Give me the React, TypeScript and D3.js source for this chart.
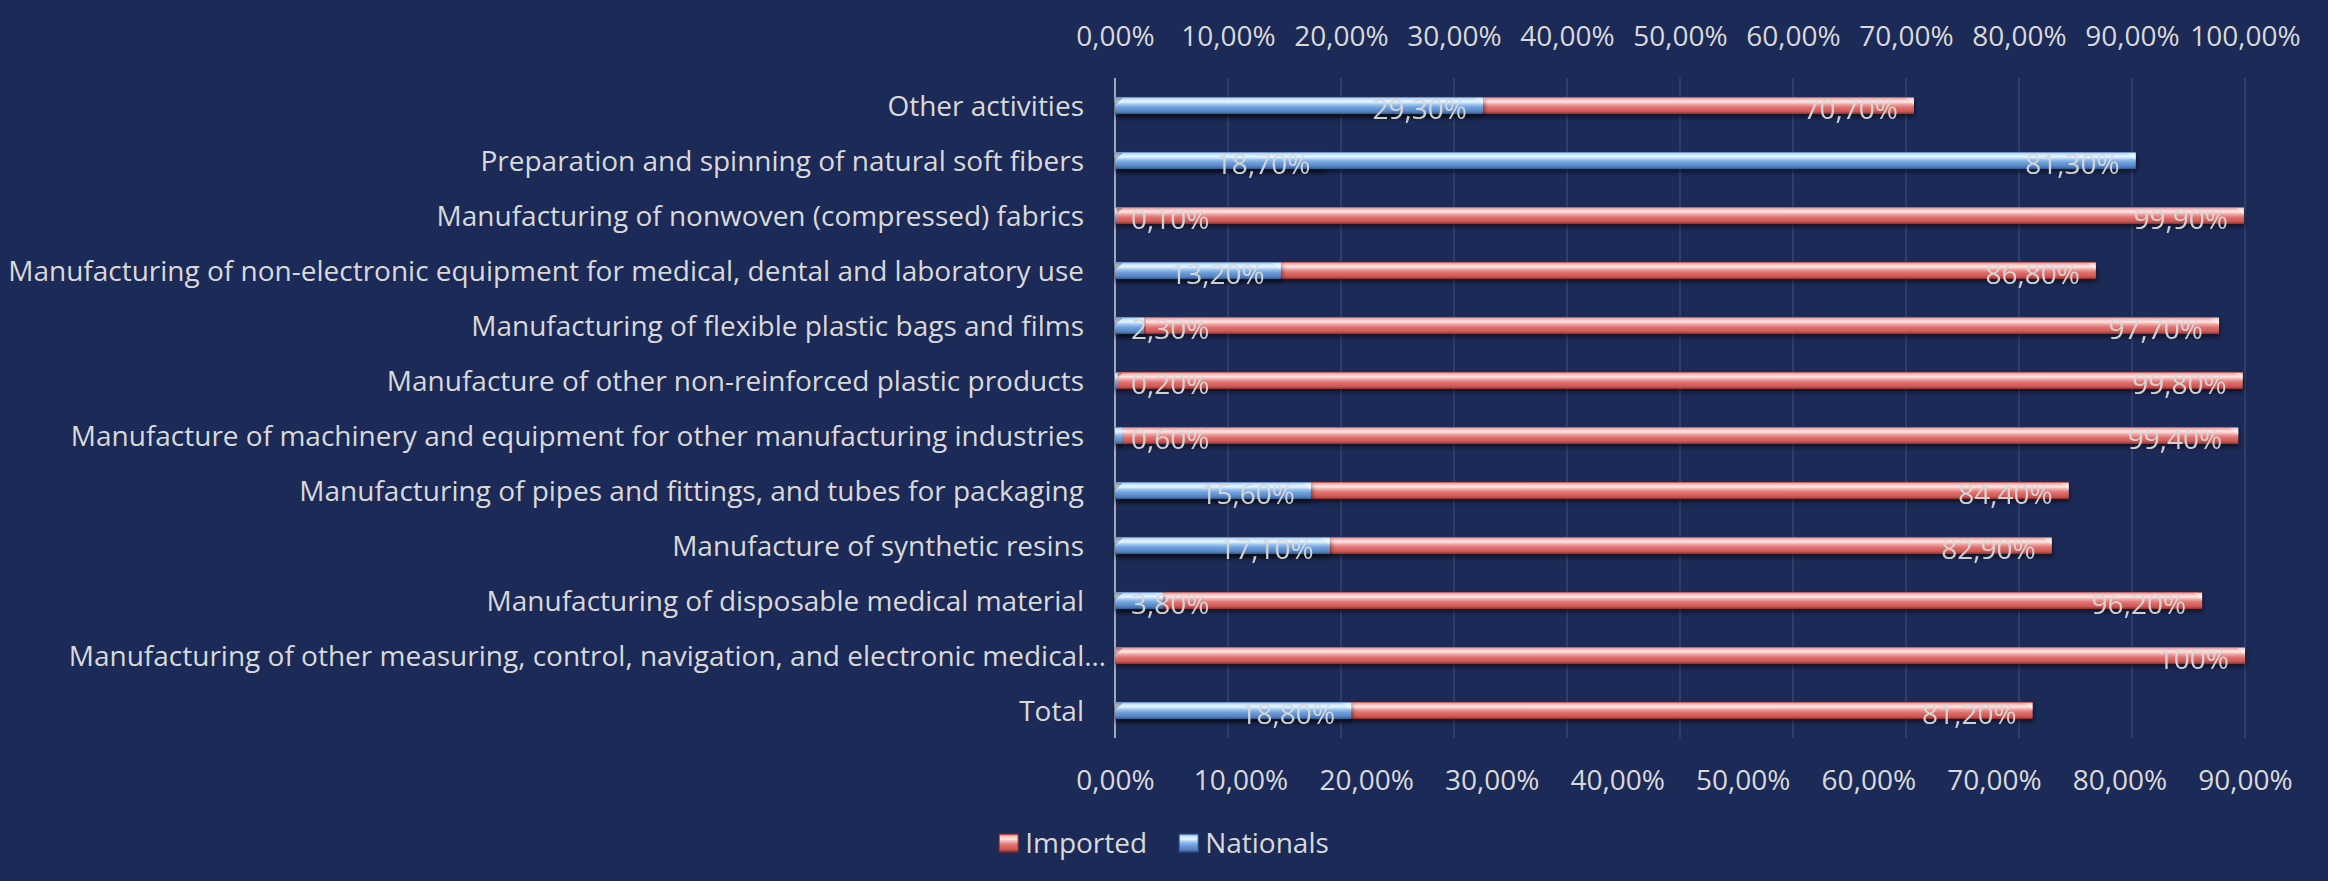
import * as d3 from "d3";
import { useEffect, useRef } from "react";

const categories = [
  "Other activities",
  "Preparation and spinning of natural soft fibers",
  "Manufacturing of nonwoven (compressed) fabrics",
  "Manufacturing of non-electronic equipment for medical, dental and laboratory use",
  "Manufacturing of flexible plastic bags and films",
  "Manufacture of other non-reinforced plastic products",
  "Manufacture of machinery and equipment for other manufacturing industries",
  "Manufacturing of pipes and fittings, and tubes for packaging",
  "Manufacture of synthetic resins",
  "Manufacturing of disposable medical material",
  "Manufacturing of other measuring, control, navigation, and electronic medical…",
  "Total",
];

// Imported is plotted on the top axis (0-100%), Nationals on the bottom axis (0-90%)
const imported = [0.707, 0.187, 0.999, 0.868, 0.977, 0.998, 0.994, 0.844, 0.829, 0.962, 1.0, 0.812];
const nationals: (number | null)[] = [0.293, 0.813, 0.001, 0.132, 0.023, 0.002, 0.006, 0.156, 0.171, 0.038, null, 0.188];

const importedTicks = [0, 0.1, 0.2, 0.3, 0.4, 0.5, 0.6, 0.7, 0.8, 0.9, 1.0];
const nationalsTicks = [0, 0.1, 0.2, 0.3, 0.4, 0.5, 0.6, 0.7, 0.8, 0.9];

const seriesNames = ["Imported", "Nationals"];

const W = 2328;
const H = 881;
const BG = "#1c2a57";
const TEXT = "#d9d9d9";
const FONT = "'Open Sans', sans-serif";

const locale = d3.formatLocale({ decimal: ",", thousands: ".", grouping: [3], currency: ["", ""] });
const pct2 = locale.format(".2%");
const labelFmt = (v: number) => (v === 1 ? "100%" : pct2(v));

export default function App() {
  const ref = useRef<SVGSVGElement | null>(null);

  useEffect(() => {
    if (!ref.current) return;
    const svg = d3.select(ref.current);
    svg.selectAll("*").remove();

    const margin = { top: 78, right: 83, bottom: 143, left: 1115 };
    const innerW = W - margin.left - margin.right;
    const innerH = H - margin.top - margin.bottom;

    const xTop = d3.scaleLinear().domain([0, 1]).range([0, innerW]);
    const xBot = d3.scaleLinear().domain([0, 0.9]).range([0, innerW]);
    const y = d3.scaleBand<string>().domain(categories).range([0, innerH]).paddingInner(0.69).paddingOuter(0.345);

    const defs = svg.append("defs");
    const grad = (id: string, stops: [number, string][]) => {
      const g = defs.append("linearGradient").attr("id", id).attr("x1", 0).attr("x2", 0).attr("y1", 0).attr("y2", 1);
      stops.forEach(([o, c]) => g.append("stop").attr("offset", o).attr("stop-color", c));
    };
    grad("gRed", [
      [0, "#b04744"],
      [0.1, "#f3b3b1"],
      [0.28, "#fee9e8"],
      [0.42, "#f1a9a7"],
      [0.6, "#e07370"],
      [0.85, "#cd5753"],
      [1, "#8a302d"],
    ]);
    grad("gBlue", [
      [0, "#4f78b0"],
      [0.1, "#bfe0ff"],
      [0.28, "#e8f7ff"],
      [0.45, "#97c2f0"],
      [0.62, "#6f9fdc"],
      [0.86, "#5482c0"],
      [1, "#34578a"],
    ]);
    const shadow = defs.append("filter").attr("id", "shadow").attr("x", "-5%").attr("y", "-50%").attr("width", "110%").attr("height", "250%");
    shadow.append("feDropShadow").attr("dx", 1).attr("dy", 3).attr("stdDeviation", 2.5).attr("flood-color", "#000").attr("flood-opacity", 0.55);

    svg.append("rect").attr("width", W).attr("height", H).attr("fill", BG);

    const g = svg.append("g").attr("transform", `translate(${margin.left},${margin.top})`);

    // vertical gridlines from the primary (top) axis
    g.append("g")
      .selectAll("line")
      .data(importedTicks.slice(1))
      .join("line")
      .attr("x1", (d) => xTop(d))
      .attr("x2", (d) => xTop(d))
      .attr("y1", 0)
      .attr("y2", innerH)
      .attr("stroke", "#36446e")
      .attr("stroke-width", 1.5);

    // category axis line
    g.append("line").attr("x1", 0).attr("x2", 0).attr("y1", 0).attr("y2", innerH).attr("stroke", "#a3a9bb").attr("stroke-width", 2);

    // top axis
    const topAxis = svg
      .append("g")
      .attr("transform", `translate(${margin.left},36)`)
      .call(d3.axisTop(xTop).tickValues(importedTicks).tickSize(0).tickFormat((v) => pct2(v as number)));
    // bottom axis
    const botAxis = svg
      .append("g")
      .attr("transform", `translate(${margin.left},780)`)
      .call(d3.axisBottom(xBot).tickValues(nationalsTicks).tickSize(0).tickFormat((v) => pct2(v as number)));
    [topAxis, botAxis].forEach((a) => {
      a.select(".domain").remove();
      a.selectAll("text")
        .attr("y", 0)
        .attr("dy", "0.36em")
        .style("fill", TEXT)
        .style("font-family", FONT)
        .style("font-size", "28px");
    });

    // category labels (Excel lets the truncated one run a little past the others)
    g.append("g")
      .selectAll("text")
      .data(categories)
      .join("text")
      .attr("x", (d) => (d.endsWith("…") ? -9 : -31))
      .attr("y", (d) => (y(d) ?? 0) + y.bandwidth() / 2)
      .attr("dy", "0.36em")
      .attr("text-anchor", "end")
      .style("fill", TEXT)
      .style("font-family", FONT)
      .style("font-size", "28px")
      .text((d) => d);

    const bh = y.bandwidth();

    const drawBars = (vals: (number | null)[], x: d3.ScaleLinear<number, number>, fill: string) => {
      const rows = vals.map((v, i) => ({ v, c: categories[i] })).filter((d) => d.v != null && (d.v as number) > 0);
      const bg = g.append("g");
      rows.forEach((d) => {
        const y0 = y(d.c) ?? 0;
        const w = Math.max(x(d.v as number), 1.5);
        const row = bg.append("g");
        row.append("rect").attr("x", 0).attr("y", y0).attr("width", w).attr("height", bh).attr("fill", `url(#${fill})`).attr("filter", "url(#shadow)");
        if (w > 12) {
          // bevelled ends
          row.append("path")
            .attr("d", `M${w - 8},${y0 + 1}L${w},${y0 + 1}L${w},${y0 + 8}Z`)
            .attr("fill", "#ffffff")
            .attr("opacity", 0.45);
          row.append("path")
            .attr("d", `M0,${y0 + 1}L8,${y0 + 1}L0,${y0 + 8}Z`)
            .attr("fill", "#000")
            .attr("opacity", 0.25);
        }
      });
    };

    const drawLabels = (vals: (number | null)[], x: d3.ScaleLinear<number, number>) => {
      vals.forEach((v, i) => {
        if (v == null) return;
        const c = categories[i];
        const t = g
          .append("text")
          .attr("y", (y(c) ?? 0) + bh / 2 + 3)
          .attr("dy", "0.36em")
          .style("fill", TEXT)
          .style("font-family", FONT)
          .style("font-size", "28px")
          .style("opacity", 0.95)
          .text(labelFmt(v));
        const tw = (t.node() as SVGTextElement).getComputedTextLength();
        const end = x(v) - 16;
        if (end - tw < 16) t.attr("x", 16).attr("text-anchor", "start");
        else t.attr("x", end).attr("text-anchor", "end");
      });
    };

    drawBars(imported, xTop, "gRed");
    drawBars(nationals, xBot, "gBlue");
    drawLabels(imported, xTop);
    drawLabels(nationals, xBot);

    // legend, centred on the chart
    const leg = svg.append("g").attr("transform", `translate(0,843)`);
    const fills = ["gRed", "gBlue"];
    const items = seriesNames.map((name, i) => {
      const it = leg.append("g");
      it.append("rect").attr("x", 0).attr("y", -9).attr("width", 19).attr("height", 18).attr("fill", `url(#${fills[i]})`).attr("stroke", i === 0 ? "#8a302d" : "#34578a").attr("stroke-width", 1);
      const t = it
        .append("text")
        .attr("x", 26)
        .attr("dy", "0.36em")
        .style("fill", TEXT)
        .style("font-family", FONT)
        .style("font-size", "28px")
        .text(name);
      return { it, w: 26 + (t.node() as SVGTextElement).getComputedTextLength() };
    });
    const gap = 32;
    const total = items.reduce((s, d) => s + d.w, 0) + gap * (items.length - 1);
    let cx = W / 2 - total / 2;
    items.forEach((d) => {
      d.it.attr("transform", `translate(${cx},0)`);
      cx += d.w + gap;
    });
  }, []);

  return (
    <svg
      ref={ref}
      width={W}
      height={H}
      style={{ position: "absolute", left: 0, top: 0, display: "block" }}
      role="img"
      aria-label="Imported and national shares by activity"
    />
  );
}
